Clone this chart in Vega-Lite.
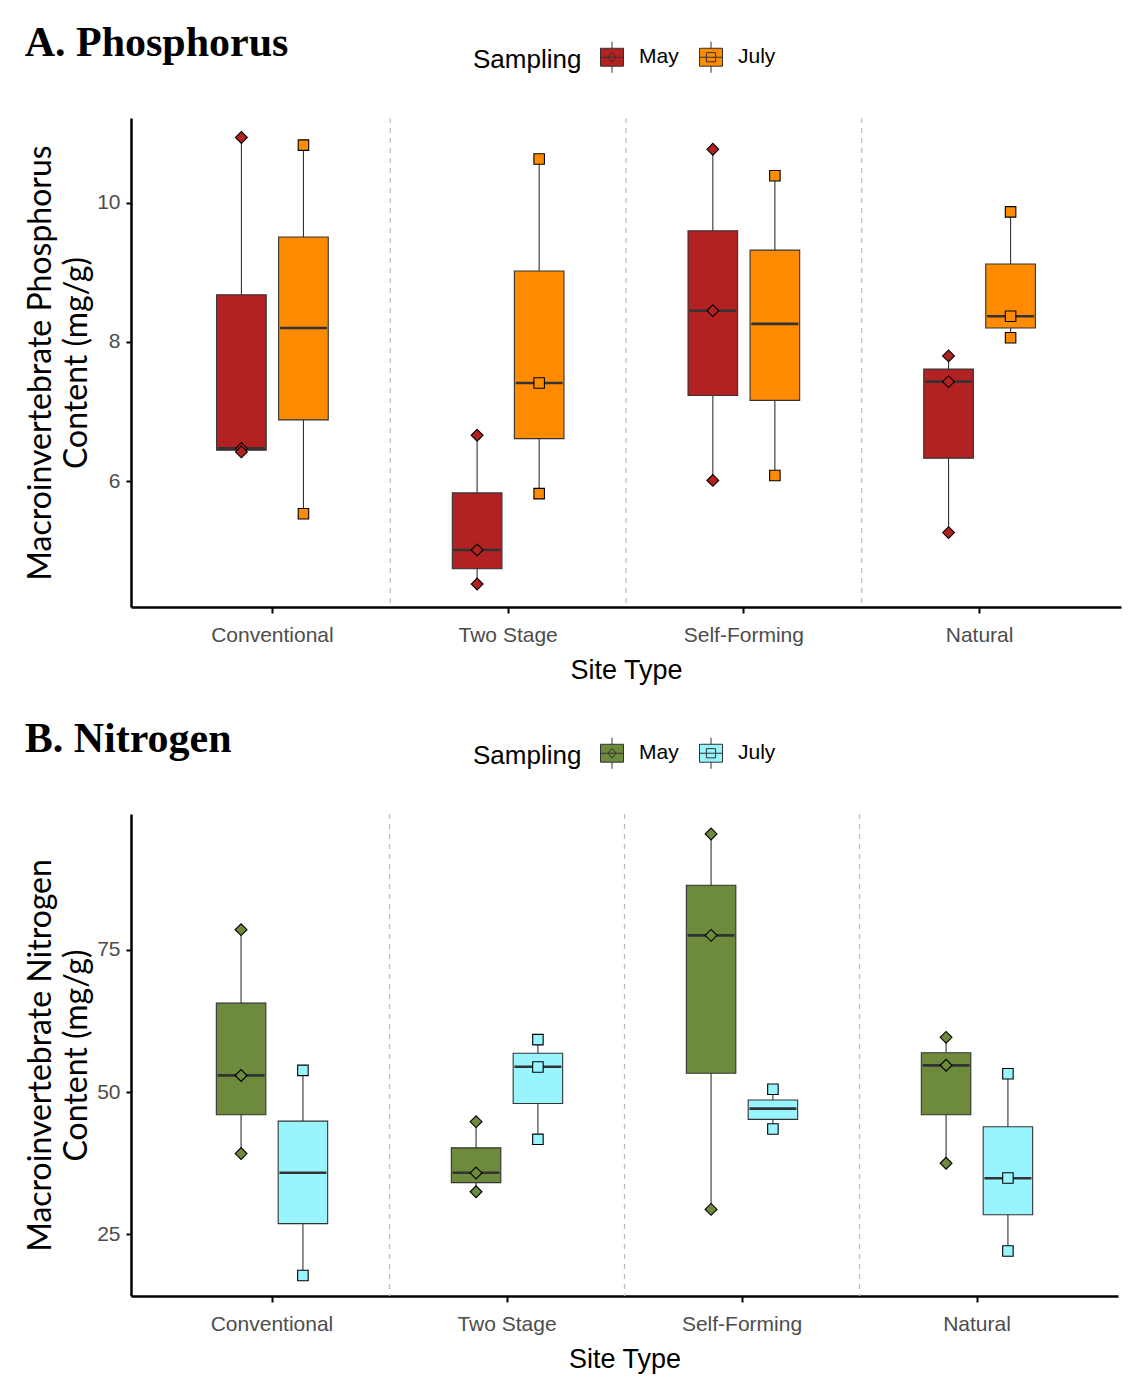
{
  "$schema": "https://vega.github.io/schema/vega-lite/v6.json",
  "background": "white",
  "padding": {"left": 24, "top": 22, "right": 5, "bottom": 5},
  "datasets": {
    "boxesP": [
      {"site": "Conventional", "sampling": "May", "lower": 6.42, "q1": 6.445, "median": 6.47, "q3": 8.68, "upper": 10.92},
      {"site": "Conventional", "sampling": "July", "lower": 5.53, "q1": 6.88, "median": 8.2, "q3": 9.51, "upper": 10.84},
      {"site": "Two Stage", "sampling": "May", "lower": 4.52, "q1": 4.74, "median": 5.01, "q3": 5.83, "upper": 6.66},
      {"site": "Two Stage", "sampling": "July", "lower": 5.84, "q1": 6.61, "median": 7.41, "q3": 9.02, "upper": 10.63},
      {"site": "Self-Forming", "sampling": "May", "lower": 6.01, "q1": 7.23, "median": 8.45, "q3": 9.6, "upper": 10.77},
      {"site": "Self-Forming", "sampling": "July", "lower": 6.08, "q1": 7.16, "median": 8.26, "q3": 9.32, "upper": 10.39},
      {"site": "Natural", "sampling": "May", "lower": 5.26, "q1": 6.33, "median": 7.43, "q3": 7.61, "upper": 7.8},
      {"site": "Natural", "sampling": "July", "lower": 8.06, "q1": 8.2, "median": 8.37, "q3": 9.12, "upper": 9.87}
    ],
    "pointsP": [
      {"site": "Conventional", "sampling": "May", "value": 10.94},
      {"site": "Conventional", "sampling": "May", "value": 6.47},
      {"site": "Conventional", "sampling": "May", "value": 6.42},
      {"site": "Conventional", "sampling": "July", "value": 10.83},
      {"site": "Conventional", "sampling": "July", "value": 5.53},
      {"site": "Two Stage", "sampling": "May", "value": 6.66},
      {"site": "Two Stage", "sampling": "May", "value": 5.01},
      {"site": "Two Stage", "sampling": "May", "value": 4.52},
      {"site": "Two Stage", "sampling": "July", "value": 10.63},
      {"site": "Two Stage", "sampling": "July", "value": 7.41},
      {"site": "Two Stage", "sampling": "July", "value": 5.82},
      {"site": "Self-Forming", "sampling": "May", "value": 10.77},
      {"site": "Self-Forming", "sampling": "May", "value": 8.45},
      {"site": "Self-Forming", "sampling": "May", "value": 6.01},
      {"site": "Self-Forming", "sampling": "July", "value": 10.39},
      {"site": "Self-Forming", "sampling": "July", "value": 6.08},
      {"site": "Natural", "sampling": "May", "value": 7.8},
      {"site": "Natural", "sampling": "May", "value": 7.43},
      {"site": "Natural", "sampling": "May", "value": 5.26},
      {"site": "Natural", "sampling": "July", "value": 9.87},
      {"site": "Natural", "sampling": "July", "value": 8.37},
      {"site": "Natural", "sampling": "July", "value": 8.06}
    ],
    "boxesN": [
      {"site": "Conventional", "sampling": "May", "lower": 39.24, "q1": 46.0, "median": 52.92, "q3": 65.6, "upper": 78.54},
      {"site": "Conventional", "sampling": "July", "lower": 17.84, "q1": 26.9, "median": 35.84, "q3": 44.9, "upper": 53.8},
      {"site": "Two Stage", "sampling": "May", "lower": 32.46, "q1": 34.1, "median": 35.84, "q3": 40.2, "upper": 44.79},
      {"site": "Two Stage", "sampling": "July", "lower": 41.7, "q1": 48.0, "median": 54.44, "q3": 56.8, "upper": 59.24},
      {"site": "Self-Forming", "sampling": "May", "lower": 29.42, "q1": 53.3, "median": 77.49, "q3": 86.3, "upper": 95.32},
      {"site": "Self-Forming", "sampling": "July", "lower": 43.46, "q1": 45.2, "median": 47.08, "q3": 48.6, "upper": 50.47},
      {"site": "Natural", "sampling": "May", "lower": 37.5, "q1": 46.0, "median": 54.68, "q3": 56.9, "upper": 59.6},
      {"site": "Natural", "sampling": "July", "lower": 22.1, "q1": 28.45, "median": 34.86, "q3": 43.9, "upper": 53.2}
    ],
    "pointsN": [
      {"site": "Conventional", "sampling": "May", "value": 78.5},
      {"site": "Conventional", "sampling": "May", "value": 52.9},
      {"site": "Conventional", "sampling": "May", "value": 39.2},
      {"site": "Conventional", "sampling": "July", "value": 53.8},
      {"site": "Conventional", "sampling": "July", "value": 17.8},
      {"site": "Two Stage", "sampling": "May", "value": 44.8},
      {"site": "Two Stage", "sampling": "May", "value": 35.8},
      {"site": "Two Stage", "sampling": "May", "value": 32.5},
      {"site": "Two Stage", "sampling": "July", "value": 59.2},
      {"site": "Two Stage", "sampling": "July", "value": 54.4},
      {"site": "Two Stage", "sampling": "July", "value": 41.7},
      {"site": "Self-Forming", "sampling": "May", "value": 95.3},
      {"site": "Self-Forming", "sampling": "May", "value": 77.5},
      {"site": "Self-Forming", "sampling": "May", "value": 29.4},
      {"site": "Self-Forming", "sampling": "July", "value": 50.5},
      {"site": "Self-Forming", "sampling": "July", "value": 43.5},
      {"site": "Natural", "sampling": "May", "value": 59.6},
      {"site": "Natural", "sampling": "May", "value": 54.7},
      {"site": "Natural", "sampling": "May", "value": 37.5},
      {"site": "Natural", "sampling": "July", "value": 53.2},
      {"site": "Natural", "sampling": "July", "value": 34.9},
      {"site": "Natural", "sampling": "July", "value": 22.1}
    ],
    "separators": [
      {"site": "Two Stage"},
      {"site": "Self-Forming"},
      {"site": "Natural"}
    ]
  },
  "spacing": 35,
  "resolve": {"scale": {"color": "independent", "y": "independent", "x": "independent", "xOffset": "independent"}, "legend": {"color": "independent"}},
  "vconcat": [
    {
      "width": 990,
      "height": 489,
      "title": {"text": "A. Phosphorus", "font": "Liberation Serif", "fontSize": 42, "fontWeight": "bold", "color": "black", "anchor": "start", "frame": "bounds", "offset": -20},
      "layer": [
        {
          "data": {"name": "separators"},
          "mark": {"type": "rule", "color": "#BEBEBE", "strokeDash": [5, 5], "strokeWidth": 1.3},
          "encoding": {
            "x": {"field": "site", "type": "nominal", "bandPosition": 0, "title": "Site Type", "scale": {"domain": ["Conventional", "Two Stage", "Self-Forming", "Natural"], "paddingInner": 0, "paddingOuter": 0.1}}
          }
        },
        {
          "data": {"name": "boxesP"},
          "mark": {"type": "rule", "color": "#333333", "strokeWidth": 1.1},
          "encoding": {
            "x": {"field": "site", "type": "nominal", "title": "Site Type", "scale": {"domain": ["Conventional", "Two Stage", "Self-Forming", "Natural"], "paddingInner": 0, "paddingOuter": 0.1}},
            "xOffset": {"field": "sampling", "type": "nominal", "scale": {"domain": ["May", "July"], "paddingInner": 0.2, "paddingOuter": 1.1}},
            "y": {"field": "lower", "type": "quantitative", "title": ["Macroinvertebrate Phosphorus", "Content (mg/g)"], "scale": {"domain": [4.19, 11.22], "nice": false, "zero": false}, "axis": {"values": [6, 8, 10], "format": "d"}},
            "y2": {"field": "upper"}
          }
        },
        {
          "data": {"name": "boxesP"},
          "mark": {"type": "bar", "stroke": "#333333", "strokeWidth": 1.1},
          "encoding": {
            "x": {"field": "site", "type": "nominal", "title": "Site Type"},
            "xOffset": {"field": "sampling", "type": "nominal"},
            "y": {"field": "q1", "type": "quantitative", "title": ["Macroinvertebrate Phosphorus", "Content (mg/g)"]},
            "y2": {"field": "q3"},
            "color": {
              "field": "sampling", "type": "nominal",
              "scale": {"domain": ["May", "July"], "range": ["#B22222", "#FF8C00"]},
              "legend": {
                "orient": "none", "legendX": 342, "legendY": -73, "direction": "horizontal",
                "title": "Sampling", "titleOrient": "left", "titleFont": "Liberation Sans", "titleFontSize": 26, "titleFontWeight": "normal", "titleColor": "black", "titlePadding": 18,
                "labelFont": "Liberation Sans", "labelFontSize": 21, "labelColor": "black", "labelOffset": 15, "columnPadding": 18,
                "symbolSize": 529, "symbolType": "M-1,-0.78H1V0.78H-1Z M0,-0.78V-1.35 M0,0.78V1.35 M-1,0H1", "symbolStrokeColor": "#333333", "symbolStrokeWidth": 1, "symbolOpacity": 1,
                "encode": {"symbols": {"update": {"shape": {"signal": "datum.value === 'May' ? 'M-1,-0.78H1V0.78H-1Z M0,-0.78V-1.35 M0,0.78V1.35 M-1,0H1 M0,-0.42L0.36,0L0,0.42L-0.36,0Z' : 'M-1,-0.78H1V0.78H-1Z M0,-0.78V-1.35 M0,0.78V1.35 M-1,0H1 M-0.4,-0.4H0.4V0.4H-0.4Z'"}, "stroke": {"value": "#333333"}, "strokeWidth": {"value": 1}}}}
              }
            }
          }
        },
        {
          "data": {"name": "boxesP"},
          "mark": {"type": "tick", "color": "#333333", "thickness": 2.6, "size": 47, "opacity": 1},
          "encoding": {
            "x": {"field": "site", "type": "nominal", "title": "Site Type"},
            "xOffset": {"field": "sampling", "type": "nominal"},
            "y": {"field": "median", "type": "quantitative", "title": ["Macroinvertebrate Phosphorus", "Content (mg/g)"]}
          }
        },
        {
          "data": {"name": "pointsP"},
          "transform": [{"filter": "datum.sampling === 'May'"}],
          "mark": {"type": "point", "shape": "diamond", "filled": true, "fill": "#B22222", "stroke": "black", "strokeWidth": 1.1, "opacity": 1, "size": 140},
          "encoding": {
            "x": {"field": "site", "type": "nominal", "title": "Site Type"},
            "xOffset": {"field": "sampling", "type": "nominal"},
            "y": {"field": "value", "type": "quantitative", "title": ["Macroinvertebrate Phosphorus", "Content (mg/g)"]}
          }
        },
        {
          "data": {"name": "pointsP"},
          "transform": [{"filter": "datum.sampling === 'July'"}],
          "mark": {"type": "point", "shape": "square", "filled": true, "fill": "#FF8C00", "stroke": "black", "strokeWidth": 1.1, "opacity": 1, "size": 110},
          "encoding": {
            "x": {"field": "site", "type": "nominal", "title": "Site Type"},
            "xOffset": {"field": "sampling", "type": "nominal"},
            "y": {"field": "value", "type": "quantitative", "title": ["Macroinvertebrate Phosphorus", "Content (mg/g)"]}
          }
        }
      ]
    },
    {
      "width": 987,
      "height": 482,
      "title": {"text": "B. Nitrogen", "font": "Liberation Serif", "fontSize": 42, "fontWeight": "bold", "color": "black", "anchor": "start", "frame": "bounds", "offset": -20},
      "layer": [
        {
          "data": {"name": "separators"},
          "mark": {"type": "rule", "color": "#BEBEBE", "strokeDash": [5, 5], "strokeWidth": 1.3},
          "encoding": {
            "x": {"field": "site", "type": "nominal", "bandPosition": 0, "title": "Site Type", "scale": {"domain": ["Conventional", "Two Stage", "Self-Forming", "Natural"], "paddingInner": 0, "paddingOuter": 0.1}}
          }
        },
        {
          "data": {"name": "boxesN"},
          "mark": {"type": "rule", "color": "#333333", "strokeWidth": 1.1},
          "encoding": {
            "x": {"field": "site", "type": "nominal", "title": "Site Type", "scale": {"domain": ["Conventional", "Two Stage", "Self-Forming", "Natural"], "paddingInner": 0, "paddingOuter": 0.1}},
            "xOffset": {"field": "sampling", "type": "nominal", "scale": {"domain": ["May", "July"], "paddingInner": 0.2, "paddingOuter": 1.1}},
            "y": {"field": "lower", "type": "quantitative", "title": ["Macroinvertebrate Nitrogen", "Content (mg/g)"], "scale": {"domain": [14.2, 98.8], "nice": false, "zero": false}, "axis": {"values": [25, 50, 75], "format": "d"}},
            "y2": {"field": "upper"}
          }
        },
        {
          "data": {"name": "boxesN"},
          "mark": {"type": "bar", "stroke": "#333333", "strokeWidth": 1.1},
          "encoding": {
            "x": {"field": "site", "type": "nominal", "title": "Site Type"},
            "xOffset": {"field": "sampling", "type": "nominal"},
            "y": {"field": "q1", "type": "quantitative", "title": ["Macroinvertebrate Nitrogen", "Content (mg/g)"]},
            "y2": {"field": "q3"},
            "color": {
              "field": "sampling", "type": "nominal",
              "scale": {"domain": ["May", "July"], "range": ["#6E8B3D", "#98F5FF"]},
              "legend": {
                "orient": "none", "legendX": 342, "legendY": -73, "direction": "horizontal",
                "title": "Sampling", "titleOrient": "left", "titleFont": "Liberation Sans", "titleFontSize": 26, "titleFontWeight": "normal", "titleColor": "black", "titlePadding": 18,
                "labelFont": "Liberation Sans", "labelFontSize": 21, "labelColor": "black", "labelOffset": 15, "columnPadding": 18,
                "symbolSize": 529, "symbolType": "M-1,-0.78H1V0.78H-1Z M0,-0.78V-1.35 M0,0.78V1.35 M-1,0H1", "symbolStrokeColor": "#333333", "symbolStrokeWidth": 1, "symbolOpacity": 1,
                "encode": {"symbols": {"update": {"shape": {"signal": "datum.value === 'May' ? 'M-1,-0.78H1V0.78H-1Z M0,-0.78V-1.35 M0,0.78V1.35 M-1,0H1 M0,-0.42L0.36,0L0,0.42L-0.36,0Z' : 'M-1,-0.78H1V0.78H-1Z M0,-0.78V-1.35 M0,0.78V1.35 M-1,0H1 M-0.4,-0.4H0.4V0.4H-0.4Z'"}, "stroke": {"value": "#333333"}, "strokeWidth": {"value": 1}}}}
              }
            }
          }
        },
        {
          "data": {"name": "boxesN"},
          "mark": {"type": "tick", "color": "#333333", "thickness": 2.6, "size": 47, "opacity": 1},
          "encoding": {
            "x": {"field": "site", "type": "nominal", "title": "Site Type"},
            "xOffset": {"field": "sampling", "type": "nominal"},
            "y": {"field": "median", "type": "quantitative", "title": ["Macroinvertebrate Nitrogen", "Content (mg/g)"]}
          }
        },
        {
          "data": {"name": "pointsN"},
          "transform": [{"filter": "datum.sampling === 'May'"}],
          "mark": {"type": "point", "shape": "diamond", "filled": true, "fill": "#6E8B3D", "stroke": "black", "strokeWidth": 1.1, "opacity": 1, "size": 140},
          "encoding": {
            "x": {"field": "site", "type": "nominal", "title": "Site Type"},
            "xOffset": {"field": "sampling", "type": "nominal"},
            "y": {"field": "value", "type": "quantitative", "title": ["Macroinvertebrate Nitrogen", "Content (mg/g)"]}
          }
        },
        {
          "data": {"name": "pointsN"},
          "transform": [{"filter": "datum.sampling === 'July'"}],
          "mark": {"type": "point", "shape": "square", "filled": true, "fill": "#98F5FF", "stroke": "black", "strokeWidth": 1.1, "opacity": 1, "size": 110},
          "encoding": {
            "x": {"field": "site", "type": "nominal", "title": "Site Type"},
            "xOffset": {"field": "sampling", "type": "nominal"},
            "y": {"field": "value", "type": "quantitative", "title": ["Macroinvertebrate Nitrogen", "Content (mg/g)"]}
          }
        }
      ]
    }
  ],
  "config": {
    "view": {"stroke": null},
    "axis": {"grid": false, "domainColor": "black", "domainWidth": 2.5, "tickColor": "black", "tickWidth": 2, "labelColor": "#4D4D4D", "labelFont": "Liberation Sans", "labelFontSize": 21, "titleColor": "black", "titleFontWeight": "normal"},
    "axisX": {"labelAngle": 0, "tickSize": 6, "labelPadding": 11, "titleFont": "Liberation Sans", "titleFontSize": 27, "titlePadding": 12},
    "axisY": {"tickSize": 5, "labelPadding": 6, "titleFont": "Lato", "titleFontSize": 32, "titleLineHeight": 36, "titlePadding": 3}
  }
}
